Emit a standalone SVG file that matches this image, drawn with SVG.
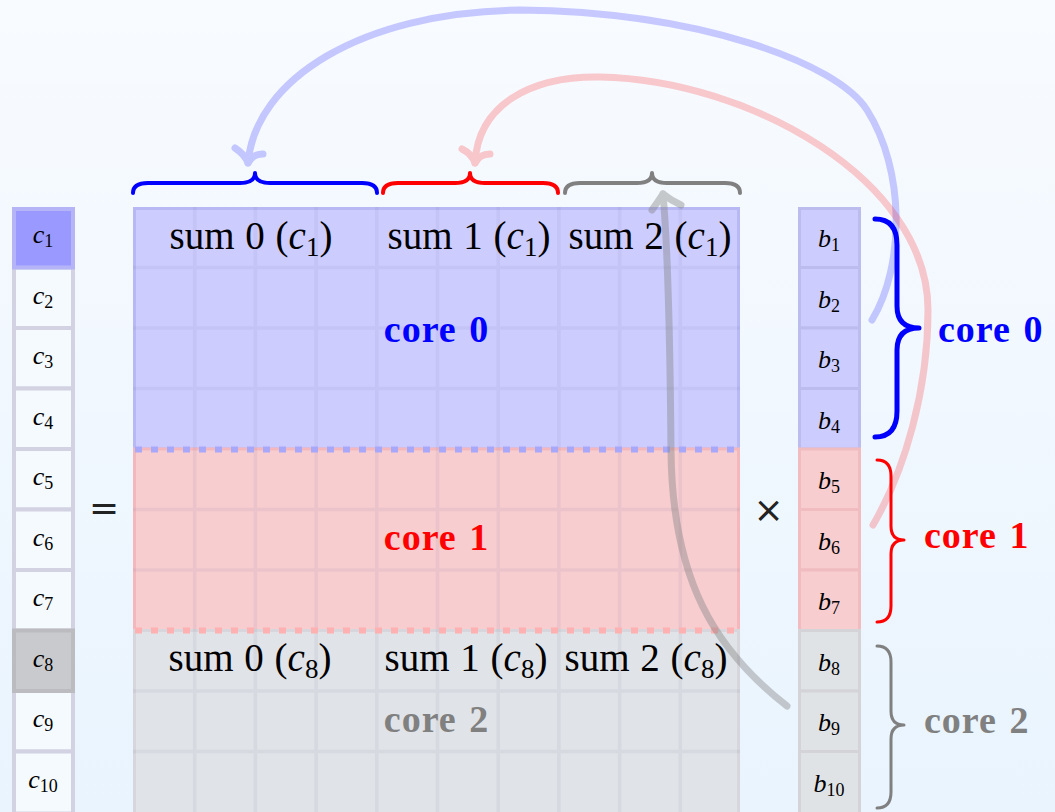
<svg xmlns="http://www.w3.org/2000/svg" width="1055" height="812" viewBox="0 0 1055 812">
<defs>
<linearGradient id="bg" x1="0" y1="0" x2="0" y2="1">
<stop offset="0" stop-color="#f8fbff"/>
<stop offset="1" stop-color="#e9f4fe"/>
</linearGradient>
<style>
.lbl{font-family:"Liberation Serif","Times New Roman",serif;font-size:26px;fill:#000;text-anchor:middle}
.it{font-style:italic}
.sum{font-family:"Liberation Serif","Times New Roman",serif;font-size:39px;fill:#000;text-anchor:middle;word-spacing:1px}
.core{font-family:"Liberation Serif","Times New Roman",serif;font-size:38px;font-weight:bold;letter-spacing:1px;word-spacing:2px}
.op{font-family:"DejaVu Sans",sans-serif;font-size:36px;fill:#222;text-anchor:middle}
.cc{fill:#f5faff;stroke:#d2d2e2;stroke-width:4}
.grid{stroke:#646496;stroke-opacity:0.08;stroke-width:3.5;fill:none}
.brace{fill:none;stroke-linecap:round;stroke-linejoin:round}
.arr{fill:none;stroke-width:7;stroke-linecap:round;stroke-linejoin:round}
</style>
</defs>
<rect x="0" y="0" width="1055" height="812" fill="url(#bg)"/>

<g id="c-vector">
<rect class="cc" x="14" y="267.5" width="59" height="60.5"/>
<rect class="cc" x="14" y="328" width="59" height="60.5"/>
<rect class="cc" x="14" y="388.5" width="59" height="60.5"/>
<rect class="cc" x="14" y="449" width="59" height="60.5"/>
<rect class="cc" x="14" y="509.5" width="59" height="60.5"/>
<rect class="cc" x="14" y="570" width="59" height="60.5"/>
<rect class="cc" x="14" y="691" width="59" height="60.5"/>
<rect class="cc" x="14" y="751.5" width="59" height="62"/>
<rect x="14" y="209" width="59" height="58.5" fill="#9999ff" stroke="#b4b4f6" stroke-width="4"/>
<rect x="14" y="630.5" width="59" height="60.5" fill="#c8cacd" stroke="#bcbcc0" stroke-width="4"/>
<text class="lbl" x="43" y="243"><tspan class="it">c</tspan><tspan font-size="18" dy="4">1</tspan></text>
<text class="lbl" x="43" y="303.5"><tspan class="it">c</tspan><tspan font-size="18" dy="4">2</tspan></text>
<text class="lbl" x="43" y="364"><tspan class="it">c</tspan><tspan font-size="18" dy="4">3</tspan></text>
<text class="lbl" x="43" y="424.5"><tspan class="it">c</tspan><tspan font-size="18" dy="4">4</tspan></text>
<text class="lbl" x="43" y="485"><tspan class="it">c</tspan><tspan font-size="18" dy="4">5</tspan></text>
<text class="lbl" x="43" y="545.5"><tspan class="it">c</tspan><tspan font-size="18" dy="4">6</tspan></text>
<text class="lbl" x="43" y="606"><tspan class="it">c</tspan><tspan font-size="18" dy="4">7</tspan></text>
<text class="lbl" x="43" y="666.5"><tspan class="it">c</tspan><tspan font-size="18" dy="4">8</tspan></text>
<text class="lbl" x="43" y="727"><tspan class="it">c</tspan><tspan font-size="18" dy="4">9</tspan></text>
<text class="lbl" x="43" y="787.5"><tspan class="it">c</tspan><tspan font-size="18" dy="4">10</tspan></text>
</g>

<g id="equals"><text class="op" x="104" y="520">=</text></g>

<g id="matrix">
<rect x="134.5" y="208.5" width="604" height="240.5" fill="#ccccff" stroke="#b8b8f4" stroke-width="3"/>
<rect x="134.5" y="449" width="604" height="181.5" fill="#f7cdd0" stroke="#f4b8bc" stroke-width="3"/>
<rect x="134.5" y="630.5" width="604" height="183" fill="#e0e3e7" stroke="#d6d6dc" stroke-width="3"/>
<path class="grid" d="M194.7,207V812M255.4,207V812M316.1,207V812M376.8,207V812M437.5,207V812M498.2,207V812M558.9,207V812M619.6,207V812M680.3,207V812M133,267.5H740M133,328H740M133,388.5H740M133,509.5H740M133,570H740M133,691H740M133,751.5H740"/>
<path d="M135,449.5H740" stroke="#a8a8fa" stroke-width="6" stroke-dasharray="7 9" fill="none"/>
<path d="M135,630.5H740" stroke="#ffb0b0" stroke-width="6" stroke-dasharray="7 9" fill="none"/>
<text class="sum" x="251" y="249">sum 0 (<tspan class="it">c</tspan><tspan font-size="27" dy="7">1</tspan><tspan dy="-7">)</tspan></text>
<text class="sum" x="469" y="249">sum 1 (<tspan class="it">c</tspan><tspan font-size="27" dy="7">1</tspan><tspan dy="-7">)</tspan></text>
<text class="sum" x="650" y="249">sum 2 (<tspan class="it">c</tspan><tspan font-size="27" dy="7">1</tspan><tspan dy="-7">)</tspan></text>
<text class="sum" x="250" y="671">sum 0 (<tspan class="it">c</tspan><tspan font-size="27" dy="7">8</tspan><tspan dy="-7">)</tspan></text>
<text class="sum" x="466" y="671">sum 1 (<tspan class="it">c</tspan><tspan font-size="27" dy="7">8</tspan><tspan dy="-7">)</tspan></text>
<text class="sum" x="646" y="671">sum 2 (<tspan class="it">c</tspan><tspan font-size="27" dy="7">8</tspan><tspan dy="-7">)</tspan></text>
<text class="core" x="436.5" y="342" text-anchor="middle" fill="#0000ff">core 0</text>
<text class="core" x="436.5" y="550" text-anchor="middle" fill="#ff0000">core 1</text>
<text class="core" x="436.5" y="732" text-anchor="middle" fill="#808080">core 2</text>
</g>

<g id="times"><text class="op" x="768.5" y="522">×</text></g>

<g id="b-vector">
<rect x="799.5" y="208.5" width="60" height="59" fill="#ccccff" stroke="#bcbcee" stroke-width="3"/>
<rect x="799.5" y="267.5" width="60" height="60.5" fill="#ccccff" stroke="#bcbcee" stroke-width="3"/>
<rect x="799.5" y="328" width="60" height="60.5" fill="#ccccff" stroke="#bcbcee" stroke-width="3"/>
<rect x="799.5" y="388.5" width="60" height="60.5" fill="#ccccff" stroke="#bcbcee" stroke-width="3"/>
<rect x="799.5" y="449" width="60" height="60.5" fill="#f7cdd0" stroke="#f0bcc0" stroke-width="3"/>
<rect x="799.5" y="509.5" width="60" height="60.5" fill="#f7cdd0" stroke="#f0bcc0" stroke-width="3"/>
<rect x="799.5" y="570" width="60" height="60.5" fill="#f7cdd0" stroke="#f0bcc0" stroke-width="3"/>
<rect x="799.5" y="630.5" width="60" height="60.5" fill="#e0e3e6" stroke="#d4d4d8" stroke-width="3"/>
<rect x="799.5" y="691" width="60" height="60.5" fill="#e0e3e6" stroke="#d4d4d8" stroke-width="3"/>
<rect x="799.5" y="751.5" width="60" height="62" fill="#e0e3e6" stroke="#d4d4d8" stroke-width="3"/>
<text class="lbl" x="829" y="247"><tspan class="it">b</tspan><tspan font-size="18" dy="4">1</tspan></text>
<text class="lbl" x="829" y="307.5"><tspan class="it">b</tspan><tspan font-size="18" dy="4">2</tspan></text>
<text class="lbl" x="829" y="368"><tspan class="it">b</tspan><tspan font-size="18" dy="4">3</tspan></text>
<text class="lbl" x="829" y="428.5"><tspan class="it">b</tspan><tspan font-size="18" dy="4">4</tspan></text>
<text class="lbl" x="829" y="489"><tspan class="it">b</tspan><tspan font-size="18" dy="4">5</tspan></text>
<text class="lbl" x="829" y="549.5"><tspan class="it">b</tspan><tspan font-size="18" dy="4">6</tspan></text>
<text class="lbl" x="829" y="610"><tspan class="it">b</tspan><tspan font-size="18" dy="4">7</tspan></text>
<text class="lbl" x="829" y="670.5"><tspan class="it">b</tspan><tspan font-size="18" dy="4">8</tspan></text>
<text class="lbl" x="829" y="731"><tspan class="it">b</tspan><tspan font-size="18" dy="4">9</tspan></text>
<text class="lbl" x="829" y="791.5"><tspan class="it">b</tspan><tspan font-size="18" dy="4">10</tspan></text>
</g>

<g id="top-braces">
<path class="brace" stroke="#0000ff" stroke-width="4" d="M133,193 Q133,183 148,183 L240,183 Q255,183 255,173 Q255,183 270,183 L362,183 Q377,183 377,193"/>
<path class="brace" stroke="#ff0000" stroke-width="4" d="M383,193 Q383,183 398,183 L455,183 Q470,183 470,173 Q470,183 485,183 L543,183 Q558,183 558,193"/>
<path class="brace" stroke="#808080" stroke-width="4" d="M565,193 Q565,183 580,183 L637,183 Q652,183 652,173 Q652,183 667,183 L725,183 Q740,183 740,193"/>
</g>

<g id="core0-brace">
<path class="brace" stroke="#0000ff" stroke-width="5" d="M875,219 Q897,219 897,245 L897,306 Q897,328 919,328 Q897,328 897,350 L897,411 Q897,437 875,437"/>
<text class="core" x="938" y="342" fill="#0000ff">core 0</text>
</g>
<g id="core1-brace">
<path class="brace" stroke="#ff0000" stroke-width="3" d="M877,460 Q891,460 891,476 L891,526 Q891,540 904,540 Q891,540 891,554 L891,606 Q891,622 877,622"/>
<text class="core" x="924" y="548" fill="#ff0000">core 1</text>
</g>
<g id="core2-brace">
<path class="brace" stroke="#808080" stroke-width="3" d="M877,646 Q891,646 891,662 L891,711 Q891,725 904,725 Q891,725 891,739 L891,792 Q891,808 877,808"/>
<text class="core" x="924" y="733" fill="#808080">core 2</text>
</g>

<g id="connectors">
<g opacity="0.2">
<path class="arr" stroke="#0000ff" d="M872,320 C905,265 905,170 867,110 C837,63 700,12 520,10 C360,12 255,80 248,163"/>
<path class="arr" stroke="#0000ff" d="M235,148 C241,152 246,157 248,163 C251,157 256,154 263,154"/>
</g>
<g opacity="0.2">
<path class="arr" stroke="#ff0000" d="M873,525 C905,470 928,390 928,310 C928,180 750,80 600,77 C530,76 478,105 475,163"/>
<path class="arr" stroke="#ff0000" d="M462,149 C468,152 473,157 475,163 C478,157 483,154 490,154"/>
</g>
<g opacity="0.4">
<path class="arr" stroke="#808080" d="M787,706 C715,650 672,580 671,450 C670,330 668,250 663,194"/>
<path class="arr" stroke="#808080" d="M652,210 C656,204 660,199 663,194 C668,198 674,202 681,205"/>
</g>
</g>
</svg>
